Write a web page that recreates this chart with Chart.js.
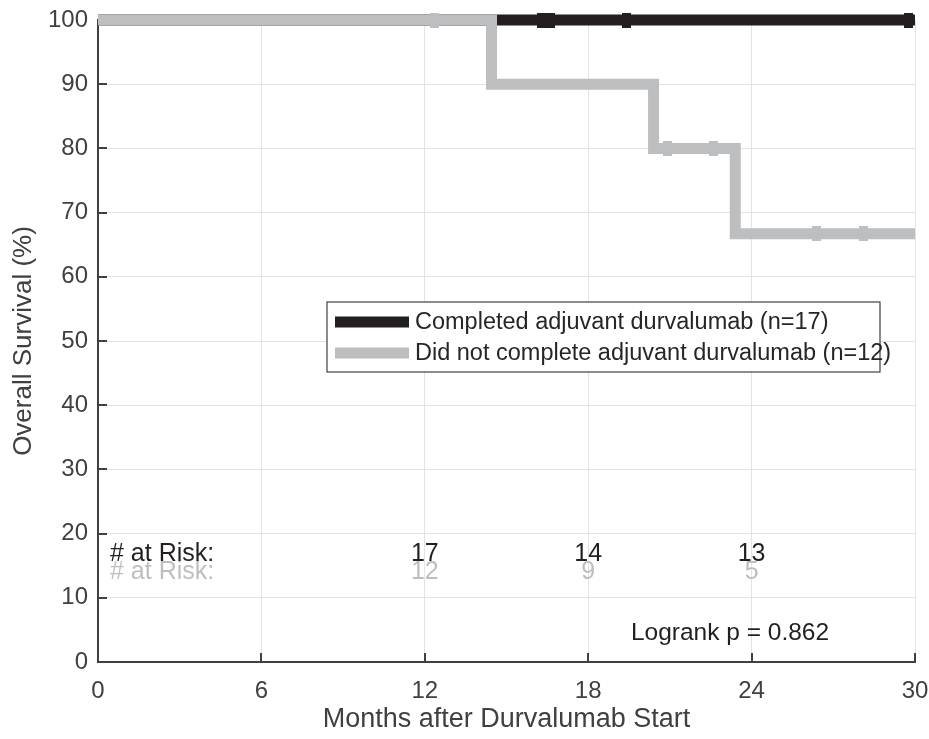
<!DOCTYPE html>
<html>
<head>
<meta charset="utf-8">
<script src="https://cdn.jsdelivr.net/npm/chart.js@4"></script>
<style>
  html, body { margin: 0; padding: 0; background: #fff; }
  #wrap { width: 929px; height: 739px; }
</style>
</head>
<body>
<div id="wrap"><canvas id="kmChart" width="929" height="739"></canvas></div>
<script>
// survival curves (months, %)
const completedTimes = [0, 30];
const completedSurv = [100, 100];
const notCompletedTimes = [0, 14.45, 20.4, 23.4, 30];
const notCompletedSurv = [100, 90, 80, 66.7, 66.7];

// censor marks
const completedCensorTimes = [16.3, 16.6, 19.4, 29.75];
const completedCensorSurv = [100, 100, 100, 100];
const notCompletedCensorTimes = [12.35, 20.9, 22.6, 26.4, 28.1];
const notCompletedCensorSurv = [100, 80, 80, 66.7, 66.7];

// numbers at risk
const riskTimes = [12, 18, 24];
const riskCompleted = [17, 14, 13];
const riskNotCompleted = [12, 9, 5];

const xTicks = [0, 6, 12, 18, 24, 30];
const legendLabels = ["Completed adjuvant durvalumab (n=17)", "Did not complete adjuvant durvalumab (n=12)"];
const pValueText = "Logrank p = 0.862";

const BLACK = '#231f20';
const GRAY = '#bcbec0';
const AXIS = '#404040';
const FONT = '"Liberation Sans", Arial, sans-serif';

function toXY(xs, ys) { return xs.map((x, i) => ({x: x, y: ys[i]})); }

function censorMark(color) {
    const c = document.createElement('canvas');
    c.width = 9; c.height = 15;
    const g = c.getContext('2d');
    g.fillStyle = color;
    g.fillRect(0, 0, 9, 15);
    return c;
}

const inwardTicks = {
    id: 'inwardTicks',
    beforeDatasetsDraw(chart) {
        const ctx = chart.ctx, a = chart.chartArea;
        const xs = chart.scales.x, ys = chart.scales.y;
        ctx.save();
        ctx.strokeStyle = AXIS;
        ctx.lineWidth = 2;
        ctx.beginPath();
        ys.ticks.forEach(t => {
            const py = Math.round(ys.getPixelForValue(t.value));
            ctx.moveTo(a.left, py); ctx.lineTo(a.left + 9, py);
        });
        xs.ticks.forEach(t => {
            const px = Math.round(xs.getPixelForValue(t.value));
            ctx.moveTo(px, a.bottom); ctx.lineTo(px, a.bottom - 9);
        });
        ctx.stroke();
        ctx.restore();
    }
};

const annotations = {
    id: 'annotations',
    afterDatasetsDraw(chart) {
        const ctx = chart.ctx, a = chart.chartArea;
        const xs = chart.scales.x;
        ctx.save();
        // legend box
        const bx = 327, by = 302, bw = 553, bh = 70;
        ctx.fillStyle = '#fff';
        ctx.fillRect(bx, by, bw, bh);
        ctx.strokeStyle = AXIS;
        ctx.lineWidth = 1.2;
        ctx.strokeRect(bx, by, bw, bh);
        ctx.font = '23.5px ' + FONT;
        ctx.textBaseline = 'middle';
        ctx.textAlign = 'left';
        [BLACK, GRAY].forEach((col, i) => {
            const ly = by + 20 + i * 31;
            ctx.fillStyle = col;
            ctx.fillRect(bx + 8, ly - 5.5, 74, 11);
            ctx.fillStyle = '#262626';
            ctx.fillText(legendLabels[i], bx + 88, ly + 1);
        });
        // numbers at risk
        ctx.font = '25px ' + FONT;
        const rowB = a.bottom - 108, rowG = a.bottom - 90;
        ctx.textAlign = 'left';
        ctx.fillStyle = GRAY;
        ctx.fillText('# at Risk:', a.left + 12, rowG);
        ctx.fillStyle = BLACK;
        ctx.fillText('# at Risk:', a.left + 12, rowB);
        ctx.textAlign = 'center';
        riskTimes.forEach((t, i) => {
            const px = xs.getPixelForValue(t);
            ctx.fillStyle = GRAY;
            ctx.fillText(String(riskNotCompleted[i]), px, rowG);
            ctx.fillStyle = BLACK;
            ctx.fillText(String(riskCompleted[i]), px, rowB);
        });
        // logrank
        ctx.fillStyle = BLACK;
        ctx.font = '24.5px ' + FONT;
        ctx.fillText(pValueText, 730, 633);
        ctx.restore();
    }
};

new Chart(document.getElementById('kmChart').getContext('2d'), {
    type: 'line',
    data: {
        datasets: [
            {
                label: legendLabels[0],
                data: toXY(completedTimes, completedSurv),
                borderColor: BLACK, borderWidth: 11, stepped: true,
                pointRadius: 0, borderCapStyle: 'butt', borderJoinStyle: 'miter',
                clip: false, order: 3
            },
            {
                label: legendLabels[1],
                data: toXY(notCompletedTimes, notCompletedSurv),
                borderColor: GRAY, borderWidth: 11, stepped: true,
                pointRadius: 0, borderCapStyle: 'butt', borderJoinStyle: 'miter',
                clip: false, order: 2
            },
            {
                type: 'scatter',
                label: 'censored (completed)',
                data: toXY(completedCensorTimes, completedCensorSurv),
                pointStyle: censorMark(BLACK), pointRadius: 5,
                clip: false, order: 1
            },
            {
                type: 'scatter',
                label: 'censored (not completed)',
                data: toXY(notCompletedCensorTimes, notCompletedCensorSurv),
                pointStyle: censorMark(GRAY), pointRadius: 5,
                clip: false, order: 0
            }
        ]
    },
    options: {
        responsive: false,
        animation: false,
        layout: { padding: { left: 0, top: 20, right: 14, bottom: 0 } },
        plugins: { legend: { display: false }, tooltip: { enabled: false } },
        scales: {
            x: {
                type: 'linear', min: 0, max: 30,
                afterFit(s) { s.height = 77; s.paddingLeft = 0; s.paddingRight = 0; },
                afterBuildTicks(s) { s.ticks = xTicks.map(v => ({value: v})); },
                grid: { color: '#e3e3e3', lineWidth: 1, drawTicks: false },
                border: { display: true, color: AXIS, width: 2 },
                ticks: { padding: 15, color: AXIS, font: { family: FONT, size: 24 } },
                title: { display: true, text: 'Months after Durvalumab Start', color: AXIS,
                         font: { family: FONT, size: 27 }, padding: { top: 0, bottom: 3 } }
            },
            y: {
                type: 'linear', min: 0, max: 100,
                afterFit(s) { s.width = 98; s.paddingTop = 0; s.paddingBottom = 0; },
                grid: { color: '#e3e3e3', lineWidth: 1, drawTicks: false },
                border: { display: true, color: AXIS, width: 2 },
                ticks: { stepSize: 10, padding: 10, color: AXIS, font: { family: FONT, size: 24 } },
                title: { display: true, text: 'Overall Survival (%)', color: AXIS,
                         font: { family: FONT, size: 26 }, padding: { top: 8, bottom: 0 } }
            }
        }
    },
    plugins: [inwardTicks, annotations]
});
</script>
</body>
</html>
